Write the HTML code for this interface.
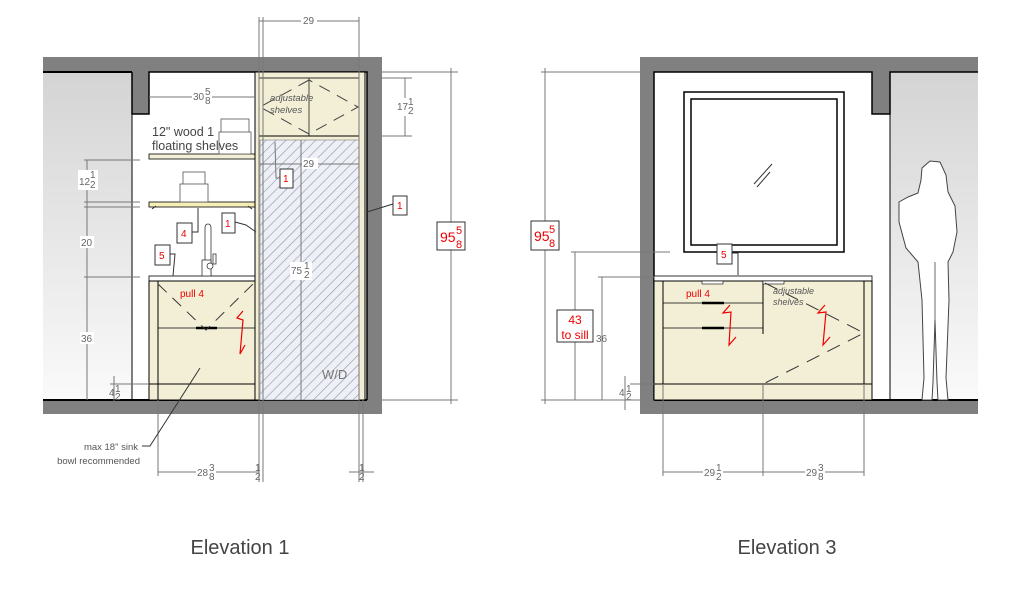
<!DOCTYPE html>
<html><head><meta charset="utf-8"><style>
html,body{margin:0;padding:0;background:#fff;}
svg{display:block;font-family:"Liberation Sans",sans-serif;}
.d{stroke:#777;stroke-width:1;fill:none}
.k{stroke:#000;fill:none}
.t{fill:#666;font-size:10px}
.r{fill:#e00;font-size:10px}
.bx{fill:#fff;stroke:#333;stroke-width:1}
</style></head><body>
<svg width="1010" height="601" viewBox="0 0 1010 601" xmlns="http://www.w3.org/2000/svg">
<defs>
<linearGradient id="g" x1="0" y1="0" x2="0" y2="1"><stop offset="0" stop-color="#d4d4d4"/><stop offset="1" stop-color="#fafafa"/></linearGradient>
<pattern id="h" width="7" height="7" patternUnits="userSpaceOnUse" patternTransform="rotate(45)"><rect width="7" height="7" fill="#eef0f5"/><line x1="0" y1="0" x2="0" y2="7" stroke="#8e9bb5" stroke-width="1.3"/></pattern>
</defs>

<!-- ===== Elevation 1 ===== -->
<rect x="43" y="57" width="339" height="357" fill="#808080"/>
<rect x="43" y="72" width="89" height="328" fill="url(#g)"/>
<rect x="132" y="114" width="17" height="286" fill="#fff"/>
<rect x="149" y="72" width="218" height="328" fill="#fff"/>
<line x1="43" y1="72" x2="132" y2="72" class="k" stroke-width="2"/>
<line x1="43" y1="400" x2="367" y2="400" class="k" stroke-width="2"/>
<polyline points="132,72 132,114 149,114 149,72 367,72 367,400" class="k" stroke-width="1.5"/>
<line x1="132" y1="114" x2="132" y2="400" class="k"/>
<rect x="149" y="154" width="106" height="5" fill="#f3efd6" stroke="#000" stroke-width="0.8"/>
<rect x="149" y="202" width="106" height="5" fill="#f6efb8" stroke="#000" stroke-width="0.8"/>
<rect x="221" y="119" width="28" height="35" fill="#fff" stroke="#555" stroke-width="0.8"/>
<rect x="219" y="132" width="32" height="22" fill="#fff" stroke="#555" stroke-width="0.8"/>
<rect x="183" y="172" width="22" height="14" fill="#fff" stroke="#555" stroke-width="0.8"/>
<rect x="180" y="184" width="28" height="18" fill="#fff" stroke="#555" stroke-width="0.8"/>
<text x="152" y="136" fill="#444" font-size="12.5">12" wood 1</text>
<text x="152" y="150" fill="#444" font-size="12.5">floating shelves</text>
<rect x="149" y="276" width="106" height="5" fill="#fff" stroke="#000" stroke-width="0.8"/>
<rect x="195" y="281" width="16" height="3" fill="#fff" stroke="#000" stroke-width="0.6"/>
<path d="M205,275 V228 q0,-4 3,-4 q3,0 3,4 V275" fill="#fff" stroke="#333" stroke-width="0.8"/>
<rect x="202" y="260" width="9" height="16" fill="#fff" stroke="#333" stroke-width="0.8"/>
<circle cx="210" cy="266" r="3" fill="#fff" stroke="#333" stroke-width="0.8"/>
<rect x="213" y="254" width="3" height="10" fill="#fff" stroke="#333" stroke-width="0.8"/>
<rect x="149" y="281" width="106" height="119" fill="#f3efd6" stroke="#000" stroke-width="1"/>
<line x1="158" y1="281" x2="158" y2="400" class="k"/>
<line x1="158" y1="328" x2="255" y2="328" class="k" stroke-width="0.7"/>
<line x1="149" y1="384" x2="255" y2="384" class="k"/>
<line x1="196" y1="328" x2="217" y2="328" stroke="#000" stroke-width="2.5"/>
<polyline points="158,284 206,330 253,284" stroke="#333" fill="none" stroke-dasharray="12,8"/>
<polyline points="152,209 156,206" stroke="#333"/><polyline points="252,209 248,206" stroke="#333"/>
<polyline points="243,311 237,318 243,320 240,354 245,345" fill="none" stroke="#e00" stroke-width="1.2"/>
<text x="180" y="297" class="r">pull 4</text>
<rect x="255" y="72" width="110" height="328" fill="#f3efd6" stroke="#000" stroke-width="1"/>
<rect x="259" y="78" width="100" height="58" fill="#f3efd6" stroke="#000" stroke-width="0.8"/>
<line x1="259" y1="136" x2="359" y2="136" class="k"/>
<rect x="260" y="140" width="99" height="260" fill="url(#h)" stroke="#666" stroke-width="0.5"/>
<line x1="309" y1="78" x2="309" y2="136" class="k" stroke-width="0.7"/>
<polyline points="309,80 260,107 309,134 358,107 309,80" fill="none" stroke="#444" stroke-dasharray="12,8"/>
<text x="270" y="101" fill="#555" font-size="9.5" font-style="italic">adjustable</text>
<text x="270" y="113" fill="#555" font-size="9.5" font-style="italic">shelves</text>
<text x="322" y="379" fill="#777" font-size="13">W/D</text>
<line x1="259" y1="17" x2="259" y2="482" class="d"/><line x1="359" y1="17" x2="359" y2="482" class="d"/>
<line x1="263" y1="17" x2="263" y2="482" class="d" stroke-width="0.6"/><line x1="363" y1="400" x2="363" y2="482" class="d" stroke-width="0.6"/>
<line x1="259" y1="21" x2="359" y2="21" class="d"/><rect x="301" y="15" width="16" height="11" fill="#fff"/><text x="303" y="24" class="t">29</text>
<line x1="149" y1="97" x2="255" y2="97" class="d"/><rect x="192" y="90" width="20" height="16" fill="#fff"/><text x="193" y="100" class="t">30</text><text x="205" y="95" class="t" font-size="8">5</text><text x="205" y="104" class="t" font-size="8">8</text>
<line x1="260" y1="164" x2="359" y2="164" class="d"/><rect x="302" y="158" width="16" height="11" fill="#fff"/><text x="303" y="167" class="t">29</text>
<line x1="301" y1="140" x2="301" y2="400" class="d"/><rect x="290" y="262" width="22" height="18" fill="#fff"/><text x="291" y="274" class="t">75</text><text x="304" y="269" class="t" font-size="8">1</text><text x="304" y="278" class="t" font-size="8">2</text>
<line x1="380" y1="78" x2="412" y2="78" class="d"/><line x1="380" y1="136" x2="412" y2="136" class="d"/>
<line x1="405" y1="78" x2="405" y2="136" class="d"/><rect x="396" y="98" width="20" height="18" fill="#fff"/><text x="397" y="110" class="t">17</text><text x="408" y="105" class="t" font-size="8">1</text><text x="408" y="114" class="t" font-size="8">2</text>
<line x1="382" y1="72" x2="458" y2="72" class="d"/><line x1="382" y1="400" x2="458" y2="400" class="d"/>
<line x1="451" y1="68" x2="451" y2="404" class="d"/>
<rect x="437" y="222" width="28" height="28" class="bx"/><text x="440" y="242" fill="#e00" font-size="14">95</text><text x="456" y="234" fill="#e00" font-size="11">5</text><text x="456" y="248" fill="#e00" font-size="11">8</text>
<line x1="87" y1="160" x2="87" y2="400" class="d"/>
<line x1="84" y1="160" x2="140" y2="160" class="d"/><line x1="84" y1="202" x2="140" y2="202" class="d"/><line x1="84" y1="207" x2="140" y2="207" class="d"/><line x1="84" y1="277" x2="140" y2="277" class="d"/><line x1="110" y1="384" x2="148" y2="384" class="d"/>
<rect x="78" y="170" width="20" height="20" fill="#fff"/><text x="79" y="185" class="t">12</text><text x="90" y="178" class="t" font-size="8">1</text><text x="90" y="188" class="t" font-size="8">2</text>
<rect x="80" y="236" width="14" height="12" fill="#fff"/><text x="81" y="246" class="t">20</text>
<rect x="80" y="332" width="14" height="12" fill="#fff"/><text x="81" y="342" class="t">36</text>
<line x1="114" y1="376" x2="114" y2="404" class="d"/><text x="109" y="396" class="t">4</text><text x="115" y="392" class="t" font-size="8">1</text><text x="115" y="400" class="t" font-size="8">2</text>
<line x1="158" y1="400" x2="158" y2="476" class="d"/><line x1="158" y1="472" x2="259" y2="472" class="d"/>
<rect x="196" y="464" width="20" height="18" fill="#fff"/><text x="197" y="476" class="t">28</text><text x="209" y="471" class="t" font-size="8">3</text><text x="209" y="480" class="t" font-size="8">8</text>
<text x="255" y="471" class="t" font-size="8">1</text><text x="255" y="480" class="t" font-size="8">2</text>
<line x1="349" y1="472" x2="374" y2="472" class="d"/><text x="359" y="471" class="t" font-size="8">1</text><text x="359" y="480" class="t" font-size="8">2</text>
<g font-size="10">
<rect x="280" y="169" width="13" height="19" class="bx"/><text x="283" y="182" fill="#e00">1</text>
<polyline points="280,178 276,178 275,142" class="d" stroke="#333"/>
<rect x="393" y="196" width="14" height="19" class="bx"/><text x="397" y="209" fill="#e00">1</text>
<line x1="393" y1="204" x2="367" y2="212" stroke="#333"/>
<rect x="222" y="213" width="13" height="20" class="bx"/><text x="225" y="227" fill="#e00">1</text>
<polyline points="235,222 246,225 256,232" fill="none" stroke="#333"/>
<rect x="177" y="223" width="15" height="20" class="bx"/><text x="181" y="237" fill="#e00">4</text>
<polyline points="192,232 198,232 198,208" fill="none" stroke="#333"/>
<rect x="155" y="245" width="15" height="20" class="bx"/><text x="159" y="259" fill="#e00">5</text>
<polyline points="170,254 175,254 173,276" fill="none" stroke="#333"/>
</g>
<text x="138" y="450" text-anchor="end" fill="#555" font-size="9.5">max 18" sink</text>
<text x="140" y="464" text-anchor="end" fill="#555" font-size="9.5">bowl recommended</text>
<polyline points="142,446 150,446 200,368" fill="none" stroke="#333"/>
<text x="240" y="554" text-anchor="middle" fill="#444" font-size="20">Elevation 1</text>

<!-- ===== Elevation 3 ===== -->
<rect x="640" y="57" width="338" height="357" fill="#808080"/>
<rect x="654" y="72" width="218" height="328" fill="#fff"/>
<rect x="872" y="114" width="18" height="286" fill="#fff"/>
<rect x="890" y="72" width="88" height="328" fill="url(#g)"/>
<polyline points="654,400 654,72 872,72 872,114 890,114 890,72 978,72" class="k" stroke-width="1.5"/>
<line x1="890" y1="114" x2="890" y2="400" class="k"/>
<line x1="654" y1="400" x2="978" y2="400" class="k" stroke-width="2"/>
<rect x="684" y="92" width="160" height="160" fill="#fff" stroke="#000" stroke-width="1.5"/>
<rect x="691" y="99" width="146" height="146" fill="#fff" stroke="#000" stroke-width="1.5"/>
<line x1="754" y1="184" x2="772" y2="164" stroke="#333"/><line x1="757" y1="187" x2="770" y2="172" stroke="#333"/>
<rect x="654" y="276" width="218" height="5" fill="#fff" stroke="#000" stroke-width="0.8"/>
<rect x="654" y="281" width="218" height="119" fill="#f3efd6" stroke="#000"/>
<line x1="663" y1="281" x2="663" y2="384" class="k"/><line x1="763" y1="281" x2="763" y2="334" class="k"/><line x1="864" y1="281" x2="864" y2="384" class="k"/>
<line x1="654" y1="384" x2="872" y2="384" class="k"/>
<line x1="663" y1="303" x2="763" y2="303" class="k" stroke-width="0.7"/><line x1="663" y1="328" x2="763" y2="328" class="k" stroke-width="0.7"/>
<line x1="702" y1="303" x2="724" y2="303" stroke="#000" stroke-width="2.5"/><line x1="702" y1="328" x2="724" y2="328" stroke="#000" stroke-width="2.5"/>
<rect x="702" y="281" width="21" height="3" fill="#fff" stroke="#000" stroke-width="0.6"/><rect x="763" y="281" width="21" height="3" fill="#fff" stroke="#000" stroke-width="0.6"/>
<polyline points="765,283 864,333 763,384" fill="none" stroke="#333" stroke-dasharray="14,9"/>
<polyline points="730,305 723,313 731,312 729,345 736,337" fill="none" stroke="#e00" stroke-width="1.2"/>
<polyline points="825,305 818,313 826,312 823,345 830,337" fill="none" stroke="#e00" stroke-width="1.2"/>
<text x="686" y="297" class="r">pull 4</text>
<text x="773" y="294" fill="#555" font-size="9" font-style="italic">adjustable</text>
<text x="773" y="305" fill="#555" font-size="9" font-style="italic">shelves</text>
<rect x="717" y="244" width="15" height="20" class="bx"/><text x="721" y="258" fill="#e00" font-size="10">5</text>
<polyline points="732,253 738,253 738,275" fill="none" stroke="#333"/>
<!-- person -->
<path d="M922,400 L924,378 L922,300 L918,262 L906,248 L899,222 L899,202 L908,197 L918,193 L921,180 L922,168 L930,161 L940,162 L946,175 L948,192 L955,206 L957,232 L953,252 L948,262 L949,300 L946,378 L948,400 L938,400 L937,382 L935,320 L933,382 L932,400 Z" fill="#fff" stroke="#444" stroke-width="1"/>
<line x1="935" y1="320" x2="935" y2="262" stroke="#444" stroke-width="0.8"/>
<line x1="541" y1="72" x2="640" y2="72" class="d"/><line x1="541" y1="400" x2="640" y2="400" class="d"/>
<line x1="545" y1="68" x2="545" y2="404" class="d"/>
<rect x="531" y="221" width="28" height="29" class="bx"/><text x="534" y="241" fill="#e00" font-size="14">95</text><text x="549" y="233" fill="#e00" font-size="11">5</text><text x="549" y="247" fill="#e00" font-size="11">8</text>
<line x1="571" y1="252" x2="670" y2="252" class="d"/><line x1="575" y1="252" x2="575" y2="400" class="d"/>
<rect x="557" y="310" width="36" height="32" class="bx"/><text x="575" y="324" text-anchor="middle" fill="#e00" font-size="12">43</text><text x="575" y="339" text-anchor="middle" fill="#e00" font-size="12">to sill</text>
<line x1="598" y1="277" x2="654" y2="277" class="d"/><line x1="602" y1="277" x2="602" y2="400" class="d"/>
<text x="596" y="342" class="t">36</text>
<line x1="625" y1="376" x2="625" y2="410" class="d"/><line x1="630" y1="384" x2="654" y2="384" class="d"/>
<text x="619" y="396" class="t">4</text><text x="626" y="392" class="t" font-size="8">1</text><text x="626" y="400" class="t" font-size="8">2</text>
<line x1="663" y1="384" x2="663" y2="476" class="d"/><line x1="763" y1="384" x2="763" y2="476" class="d"/><line x1="864" y1="384" x2="864" y2="476" class="d"/>
<line x1="663" y1="472" x2="864" y2="472" class="d"/>
<rect x="703" y="464" width="20" height="18" fill="#fff"/><text x="704" y="476" class="t">29</text><text x="716" y="471" class="t" font-size="8">1</text><text x="716" y="480" class="t" font-size="8">2</text>
<rect x="805" y="464" width="20" height="18" fill="#fff"/><text x="806" y="476" class="t">29</text><text x="818" y="471" class="t" font-size="8">3</text><text x="818" y="480" class="t" font-size="8">8</text>
<text x="787" y="554" text-anchor="middle" fill="#444" font-size="20">Elevation 3</text>
</svg>
</body></html>
